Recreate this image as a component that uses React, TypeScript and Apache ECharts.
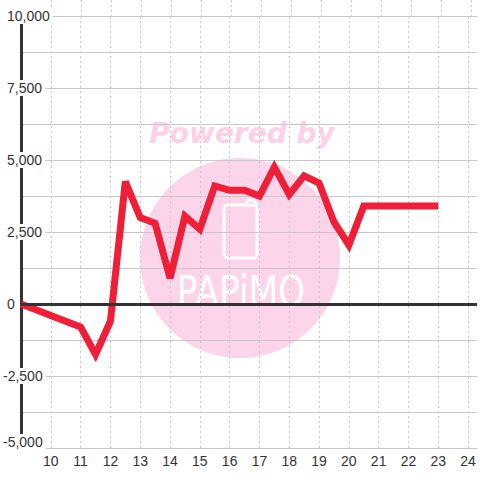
import React, { useEffect, useRef } from "react";
import * as echarts from "echarts";

const xValues = [9, 11, 11.5, 12, 12.5, 13, 13.5, 14, 14.5, 15, 15.5, 16, 16.5, 17, 17.5, 18, 18.5, 19, 19.5, 20, 20.5, 21, 21.5, 22, 22.5, 23];
const yValues = [0, -800, -1750, -600, 4250, 3000, 2800, 900, 3050, 2600, 4100, 3950, 3950, 3750, 4750, 3800, 4450, 4200, 2850, 2050, 3400, 3400, 3400, 3400, 3400, 3400];

const xMin = 9;
const xMax = 24.3;
const yMin = -5000;
const yMax = 10000;

const FONT = "'Liberation Sans', Arial, sans-serif";

export default function App() {
  const ref = useRef<HTMLDivElement>(null);
  useEffect(() => {
    if (!ref.current) return;
    const chart = echarts.init(ref.current, null, { renderer: "svg" });
    const data = xValues.map((x, i) => [x, yValues[i]]);
    const xCommon = {
      type: "value",
      min: xMin,
      max: xMax,
      interval: 1,
      axisTick: { show: false },
      splitLine: {
        show: true,
        showMinLine: false,
        showMaxLine: false,
        lineStyle: { color: "#c8c8c8", type: [2, 3], width: 1 },
      },
    };
    chart.setOption({
      animation: false,
      grid: [
        { left: 21, right: 0, top: 16, bottom: 32 },
        { left: 21, right: 0, top: 0, height: 16 },
      ],
      xAxis: [
        {
          ...xCommon,
          gridIndex: 0,
          axisLine: { show: true, onZero: false, lineStyle: { color: "#c8c8c8", width: 1 } },
          axisLabel: {
            margin: 6,
            fontSize: 14,
            color: "#333",
            fontFamily: FONT,
            formatter: (v: number) => (Number.isInteger(v) && v >= 10 ? String(v) : ""),
          },
        },
        {
          ...xCommon,
          gridIndex: 1,
          axisLine: { show: false },
          axisLabel: { show: false },
        },
      ],
      yAxis: [
        {
          type: "value",
          gridIndex: 0,
          min: yMin,
          max: yMax,
          interval: 2500,
          axisLine: { show: true, lineStyle: { color: "#333", width: 3 } },
          axisTick: { show: false },
          minorTick: { show: false, splitNumber: 2 },
          splitLine: { show: true, lineStyle: { color: "#c8c8c8", width: 1 } },
          minorSplitLine: { show: true, lineStyle: { color: "#c8c8c8", width: 1 } },
          axisLabel: {
            align: "left",
            margin: 18,
            backgroundColor: "#fff",
            padding: [1, 3, 1, 0],
            fontSize: 14,
            color: "#333",
            fontFamily: FONT,
            formatter: (v: number) => {
              const s = v.toLocaleString("en-US");
              if (v === yMin) return `{low|${s}}`;
              if (v < 0) return `{neg|${s}}`;
              return `{pos|${s}}`;
            },
            rich: {
              pos: { fontSize: 14, color: "#333", fontFamily: FONT, padding: [0, 0, 0, 4] },
              neg: { fontSize: 14, color: "#333", fontFamily: FONT },
              low: { fontSize: 14, color: "#333", fontFamily: FONT, padding: [0, 0, 12, 0] },
            },
          },
        },
        { type: "value", gridIndex: 1, show: false, min: 0, max: 1 },
      ],
      graphic: [
        {
          type: "circle",
          z: -10,
          shape: { cx: 240, cy: 258, r: 100 },
          style: { fill: "#fcd5ea" },
        },
        {
          type: "text",
          z: -9,
          x: 242,
          y: 133,
          style: {
            text: "Powered by",
            fill: "#fdd0e8",
            font: "italic bold 28px 'DejaVu Sans', sans-serif",
            align: "center",
            verticalAlign: "middle",
          },
        },
        {
          type: "rect",
          z: -9,
          shape: { x: 224, y: 205, width: 33, height: 53, r: 4 },
          style: { fill: "none", stroke: "#fff", lineWidth: 3 },
        },
        {
          type: "polyline",
          z: -9,
          shape: { points: [[246, 205], [248, 200], [253, 200], [256, 203], [256, 207]] },
          style: { fill: "none", stroke: "#fff", lineWidth: 3 },
        },
        {
          type: "text",
          z: -9,
          x: 241,
          y: 291,
          scaleX: 0.8,
          style: {
            text: "PAPiMO",
            fill: "#fff",
            font: "43px 'DejaVu Sans', sans-serif",
            align: "center",
            verticalAlign: "middle",
          },
        },
      ],
      series: [
        {
          type: "line",
          xAxisIndex: 0,
          yAxisIndex: 0,
          data: [],
          silent: true,
          markLine: {
            symbol: "none",
            silent: true,
            label: { show: false },
            lineStyle: { color: "#333", width: 3, type: "solid" },
            data: [{ yAxis: 0 }],
          },
        },
        {
          type: "line",
          xAxisIndex: 0,
          yAxisIndex: 0,
          data,
          showSymbol: false,
          symbol: "none",
          lineStyle: { color: "#ee1f36", width: 7, join: "miter" },
        },
      ],
    });
    return () => chart.dispose();
  }, []);
  return <div ref={ref} style={{ width: 480, height: 480, position: "absolute", left: 0, top: 0 }} />;
}
